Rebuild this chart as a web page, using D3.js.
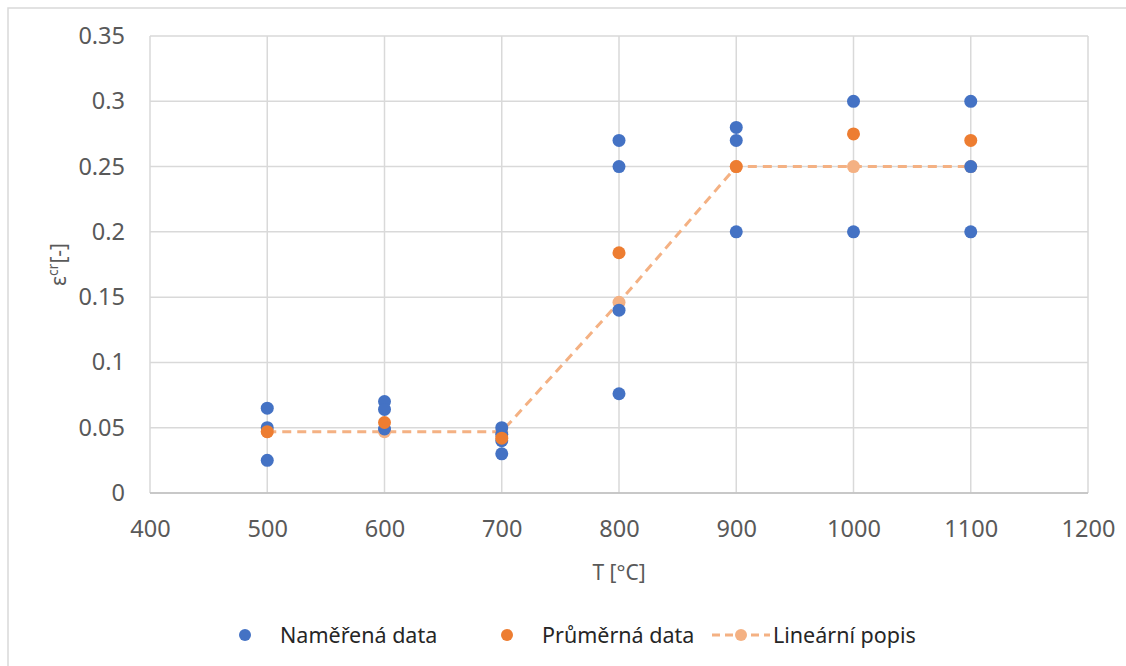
<!DOCTYPE html>
<html>
<head>
<meta charset="utf-8">
<script src="https://cdn.jsdelivr.net/npm/d3@7"></script>
<style>
  body { margin: 0; background: #fff; }
  svg { display: block; font-family: "Noto Sans", "Open Sans", sans-serif; }
</style>
</head>
<body>
<div id="chart"></div>
<script>
// measured points (T, eps)
const measuredT   = [500, 500, 500, 600, 600, 600, 700, 700, 700, 700, 800, 800, 800, 800, 900, 900, 900, 1000, 1000, 1100, 1100, 1100]
const measuredEps = [0.065, 0.05, 0.025, 0.07, 0.064, 0.049, 0.05, 0.045, 0.04, 0.03, 0.27, 0.25, 0.14, 0.076, 0.28, 0.27, 0.2, 0.3, 0.2, 0.3, 0.25, 0.2]
// averages
const averageT   = [500, 600, 700, 800, 900, 1000, 1100]
const averageEps = [0.047, 0.054, 0.042, 0.184, 0.25, 0.275, 0.27]
// linear description
const linearT   = [500, 600, 700, 800, 900, 1000, 1100]
const linearEps = [0.047, 0.047, 0.047, 0.146, 0.25, 0.25, 0.25]

const xTicks = [400, 500, 600, 700, 800, 900, 1000, 1100, 1200]
const yTicks = [0, 0.05, 0.1, 0.15, 0.2, 0.25, 0.3, 0.35]

const width = 1126, height = 666
const margin = {left: 150, right: 38, top: 36, bottom: 173}

const svg = d3.select('#chart').append('svg')
  .attr('width', width)
  .attr('height', height)

// outer chart border
svg.append('rect')
  .attr('x', 8).attr('y', 8)
  .attr('width', width + 10).attr('height', height + 10)
  .attr('fill', 'none')
  .attr('stroke', '#d9d9d9')
  .attr('stroke-width', 1.5)

const x = d3.scaleLinear().domain([400, 1200]).range([margin.left, width - margin.right])
const y = d3.scaleLinear().domain([0, 0.35]).range([height - margin.bottom, margin.top])

// grid
svg.append('g').selectAll('line').data(yTicks).join('line')
  .attr('x1', x(400)).attr('x2', x(1200))
  .attr('y1', d => y(d)).attr('y2', d => y(d))
  .attr('stroke', '#d9d9d9').attr('stroke-width', 1.5)
svg.append('g').selectAll('line').data(xTicks).join('line')
  .attr('x1', d => x(d)).attr('x2', d => x(d))
  .attr('y1', y(0)).attr('y2', y(0.35))
  .attr('stroke', '#d9d9d9').attr('stroke-width', 1.5)

// axes (labels only)
const xAxis = svg.append('g')
  .attr('transform', `translate(0,${y(0)})`)
  .call(d3.axisBottom(x).tickValues(xTicks).tickSize(0).tickPadding(27).tickFormat(d3.format('d')))
const yAxis = svg.append('g')
  .attr('transform', `translate(${x(400)},0)`)
  .call(d3.axisLeft(y).tickValues(yTicks).tickSize(0).tickPadding(25).tickFormat(d => d === 0 ? '0' : String(+d.toFixed(2))))
;[xAxis, yAxis].forEach(a => {
  a.select('.domain').remove()
  a.selectAll('text').attr('fill', '#595959').style('font-size', '23.5px').style('font-family', '"Noto Sans", sans-serif')
})
svg.append('line')
  .attr('x1', x(400)).attr('x2', x(1200))
  .attr('y1', y(0)).attr('y2', y(0))
  .attr('stroke', '#bfbfbf').attr('stroke-width', 1.5)

// axis titles
svg.append('text')
  .attr('x', (x(400) + x(1200)) / 2).attr('y', 580)
  .attr('text-anchor', 'middle')
  .attr('fill', '#595959').style('font-size', '21px')
  .text('T [°C]')

const yt = svg.append('text')
  .attr('transform', `translate(66,${(y(0) + y(0.35)) / 2}) rotate(-90)`)
  .attr('text-anchor', 'middle')
  .attr('fill', '#595959').style('font-size', '21px')
yt.append('tspan').text('ε')
yt.append('tspan').attr('dy', -8).style('font-size', '14px').text('cr')
yt.append('tspan').attr('dy', 8).text('[-]')

const colors = {measured: '#4472C4', average: '#ED7D31', linear: '#F4B183'}

// linear description
const linearData = linearT.map((t, i) => [t, linearEps[i]])
svg.append('path')
  .datum(linearData)
  .attr('d', d3.line().x(d => x(d[0])).y(d => y(d[1])))
  .attr('fill', 'none')
  .attr('stroke', colors.linear)
  .attr('stroke-width', 3)
  .attr('stroke-dasharray', '9,6')
svg.append('g').selectAll('circle').data(linearData).join('circle')
  .attr('cx', d => x(d[0])).attr('cy', d => y(d[1])).attr('r', 6.5)
  .attr('fill', colors.linear)

// measured
svg.append('g').selectAll('circle').data(measuredT.map((t, i) => [t, measuredEps[i]])).join('circle')
  .attr('cx', d => x(d[0])).attr('cy', d => y(d[1])).attr('r', 6.5)
  .attr('fill', colors.measured)

// averages
svg.append('g').selectAll('circle').data(averageT.map((t, i) => [t, averageEps[i]])).join('circle')
  .attr('cx', d => x(d[0])).attr('cy', d => y(d[1])).attr('r', 6.5)
  .attr('fill', colors.average)

// legend
const legendY = 635
const legend = svg.append('g').style('font-size', '21.5px').attr('fill', '#262626')
legend.append('circle').attr('cx', 245).attr('cy', legendY).attr('r', 6).attr('fill', colors.measured)
legend.append('text').attr('x', 280).attr('y', legendY + 8).text('Naměřená data')
legend.append('circle').attr('cx', 507).attr('cy', legendY).attr('r', 6).attr('fill', colors.average)
legend.append('text').attr('x', 542).attr('y', legendY + 8).text('Průměrná data')
legend.append('line').attr('x1', 712).attr('x2', 770).attr('y1', legendY).attr('y2', legendY)
  .attr('stroke', colors.linear).attr('stroke-width', 3).attr('stroke-dasharray', '8,5')
legend.append('circle').attr('cx', 741).attr('cy', legendY).attr('r', 6).attr('fill', colors.linear)
legend.append('text').attr('x', 773).attr('y', legendY + 8).text('Lineární popis')
</script>
</body>
</html>
